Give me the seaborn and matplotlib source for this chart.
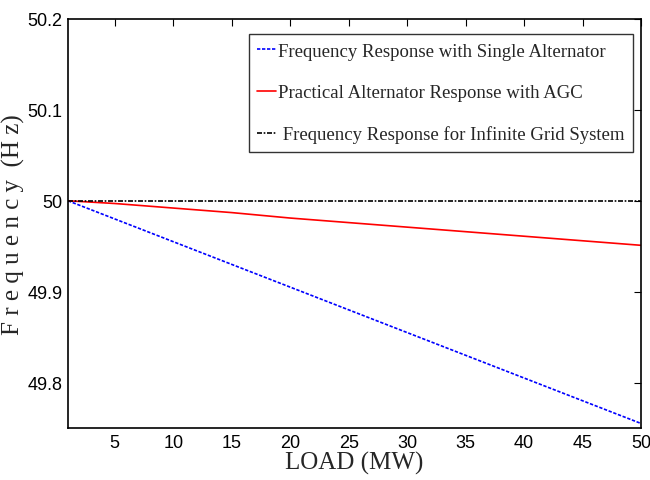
import matplotlib
matplotlib.use("Agg")
import matplotlib.pyplot as plt
import seaborn as sns
import pandas as pd

# Load values (MW) and frequency readings (Hz)
load_mw = [1, 5, 10, 15, 20, 25, 30, 35, 40, 45, 50]
freq_single = [50.000, 49.980, 49.955, 49.930, 49.905, 49.880, 49.855, 49.830, 49.805, 49.780, 49.755]
freq_agc = [50.000, 49.997, 49.992, 49.987, 49.981, 49.976, 49.971, 49.966, 49.961, 49.956, 49.951]
freq_grid = [50.000] * len(load_mw)

series_names = [
    "Frequency Response with Single Alternator",
    "Practical Alternator Response with AGC",
    " Frequency Response for Infinite Grid System",
]
x_ticks = [5, 10, 15, 20, 25, 30, 35, 40, 45, 50]
y_ticks = [49.8, 49.9, 50.0, 50.1, 50.2]
y_tick_labels = ["49.8", "49.9", "50", "50.1", "50.2"]

sns.set_style("white")
tick_font = "Liberation Sans"
serif_font = "Liberation Serif"

df = pd.DataFrame({
    "load": load_mw * 3,
    "freq": freq_single + freq_agc + freq_grid,
    "series": [series_names[0]] * len(load_mw) + [series_names[1]] * len(load_mw) + [series_names[2]] * len(load_mw),
})

fig = plt.figure(figsize=(6.5, 4.81), dpi=100)
ax = fig.add_axes([68 / 650, 1 - 429 / 481, (641 - 68) / 650, (429 - 20) / 481])

palette = {series_names[0]: "#0000ff", series_names[1]: "#ff0000", series_names[2]: "#000000"}
dashes = {series_names[0]: (2, 1), series_names[1]: "", series_names[2]: (3, 1, 1, 1)}
sns.lineplot(data=df, x="load", y="freq", hue="series", style="series",
             palette=palette, dashes=dashes, linewidth=1.2, ax=ax, legend=False)

lines = ax.get_lines()
leg = ax.legend(lines[:3], series_names, loc="upper right", bbox_to_anchor=(0.986, 0.963),
                prop={"family": serif_font, "size": 13.5}, frameon=True, fancybox=False,
                handlelength=1.0, handletextpad=0.1, borderpad=0.45, labelspacing=1.3,
                borderaxespad=0, handleheight=0.7)
leg.get_frame().set_edgecolor("black")
leg.get_frame().set_linewidth(1.0)

ax.set_xlim(1, 50)
ax.set_ylim(49.75, 50.2)
ax.set_xticks(x_ticks)
ax.set_xticklabels([str(t) for t in x_ticks], family=tick_font, fontsize=13)
ax.set_yticks(y_ticks)
ax.set_yticklabels(y_tick_labels, family=tick_font, fontsize=13)
ax.tick_params(direction="in", length=5, width=0.8, top=True, right=True, colors="black", pad=4)

for s in ax.spines.values():
    s.set_color("black")
    s.set_linewidth(1.2)

ax.set_xlabel("LOAD (MW)", family=serif_font, fontsize=18, labelpad=0)
ax.set_ylabel("F r e q u e n c y  (H z)", family=serif_font, fontsize=18, labelpad=2)

fig.savefig("out.png", dpi=100)
